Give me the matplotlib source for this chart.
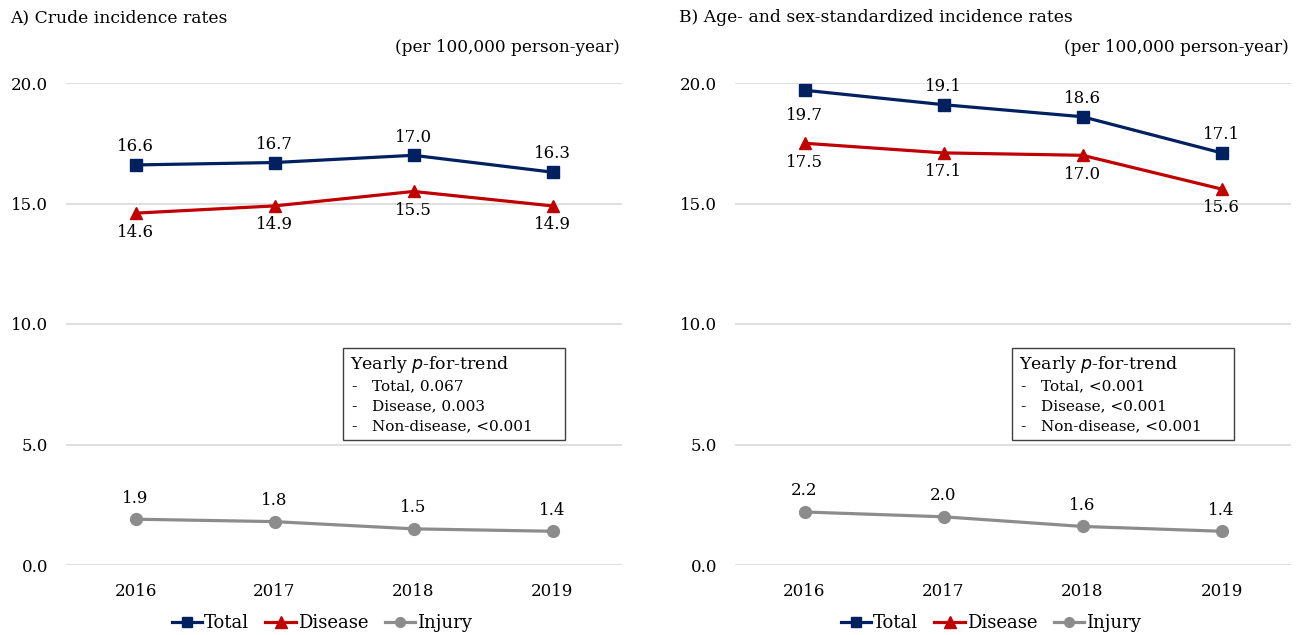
import matplotlib.pyplot as plt
from matplotlib.lines import Line2D
from matplotlib.patches import Rectangle

plt.rcParams['font.family'] = 'DejaVu Serif'

years = ['2016', '2017', '2018', '2019']

crude_total = [16.6, 16.7, 17.0, 16.3]
crude_disease = [14.6, 14.9, 15.5, 14.9]
crude_injury = [1.9, 1.8, 1.5, 1.4]

std_total = [19.7, 19.1, 18.6, 17.1]
std_disease = [17.5, 17.1, 17.0, 15.6]
std_injury = [2.2, 2.0, 1.6, 1.4]

crude_trend = ['Total, 0.067', 'Disease, 0.003', 'Non-disease, <0.001']
std_trend = ['Total, <0.001', 'Disease, <0.001', 'Non-disease, <0.001']

C_TOTAL = '#002060'
C_DISEASE = '#C00000'
C_INJURY = '#8C8C8C'
GRID = '#D9D9D9'

fig = plt.figure(figsize=(13.07, 6.35), dpi=100)

W, H = 1307, 635


def painel(left_px, titulo, total, disease, injury, trend, lado_total):
    ax = fig.add_axes([left_px / W, (H - 565) / H, 556 / W, 482 / H])
    x = range(len(years))

    ax.plot(x, injury, color=C_INJURY, lw=2.3, marker='o', ms=8.5, zorder=3)
    ax.plot(x, disease, color=C_DISEASE, lw=2.3, marker='^', ms=8.5, zorder=3)
    ax.plot(x, total, color=C_TOTAL, lw=2.3, marker='s', ms=8, zorder=3)

    # rótulos de valores
    for i, v in enumerate(total):
        dy = 7 if lado_total[i] == 'acima' else -12
        va = 'bottom' if dy > 0 else 'top'
        ax.annotate(f'{v:.1f}', (i, v), xytext=(0, dy), textcoords='offset points',
                    ha='center', va=va, fontsize=12)
    for i, v in enumerate(disease):
        ax.annotate(f'{v:.1f}', (i, v), xytext=(0, -7.5), textcoords='offset points',
                    ha='center', va='top', fontsize=12)
    for i, v in enumerate(injury):
        ax.annotate(f'{v:.1f}', (i, v), xytext=(0, 9), textcoords='offset points',
                    ha='center', va='bottom', fontsize=12)

    ax.set_xlim(-0.5, 3.5)
    ax.set_ylim(0, 20)
    ax.set_yticks([0, 5, 10, 15, 20])
    ax.set_yticklabels(['0.0', '5.0', '10.0', '15.0', '20.0'])
    ax.set_xticks(list(x))
    ax.set_xticklabels(years)
    ax.tick_params(axis='y', length=0, pad=13, labelsize=12)
    ax.tick_params(axis='x', length=0, pad=13, labelsize=12)
    ax.grid(axis='y', color=GRID, lw=1.2)
    ax.set_axisbelow(True)
    for s in ax.spines.values():
        s.set_visible(False)

    # caixa do p-for-trend
    ax.add_patch(Rectangle((0.498, 0.2595), 0.399, 0.1905, transform=ax.transAxes,
                           fill=True, facecolor='white', edgecolor='#404040',
                           lw=1, zorder=4))
    ax.text(0.511, 0.415, 'Yearly $\\it{p}$-for-trend', transform=ax.transAxes,
            fontsize=12.5, va='center', ha='left', zorder=5)
    for k, linha in enumerate(trend):
        yk = 0.371 - k * 0.0415
        ax.text(0.513, yk, '-', transform=ax.transAxes, fontsize=11.5,
                va='center', ha='left', zorder=5)
        ax.text(0.55, yk, linha, transform=ax.transAxes, fontsize=11,
                va='center', ha='left', zorder=5)

    fig.text((left_px - 56) / W, 1 - 18 / H, titulo, fontsize=12.3, va='center', ha='left')
    fig.text((left_px + 554) / W, 1 - 47 / H, '(per 100,000 person-year)',
             fontsize=12.2, va='center', ha='right')

    handles = [
        Line2D([], [], color=C_TOTAL, lw=2.3, marker='s', ms=7),
        Line2D([], [], color=C_DISEASE, lw=2.3, marker='^', ms=8),
        Line2D([], [], color=C_INJURY, lw=2.3, marker='o', ms=7),
    ]
    ax.legend(handles, ['Total', 'Disease', 'Injury'], loc='center',
              bbox_to_anchor=(0.46, -0.12), ncol=3, frameon=False,
              fontsize=13, handlelength=1.7, handletextpad=0.1,
              columnspacing=0.9)
    return ax


painel(66, 'A) Crude incidence rates', crude_total, crude_disease, crude_injury,
       crude_trend, ['acima'] * 4)
painel(735, 'B) Age- and sex-standardized incidence rates', std_total, std_disease,
       std_injury, std_trend, ['abaixo', 'acima', 'acima', 'acima'])

fig.savefig('out.png', dpi=100)
